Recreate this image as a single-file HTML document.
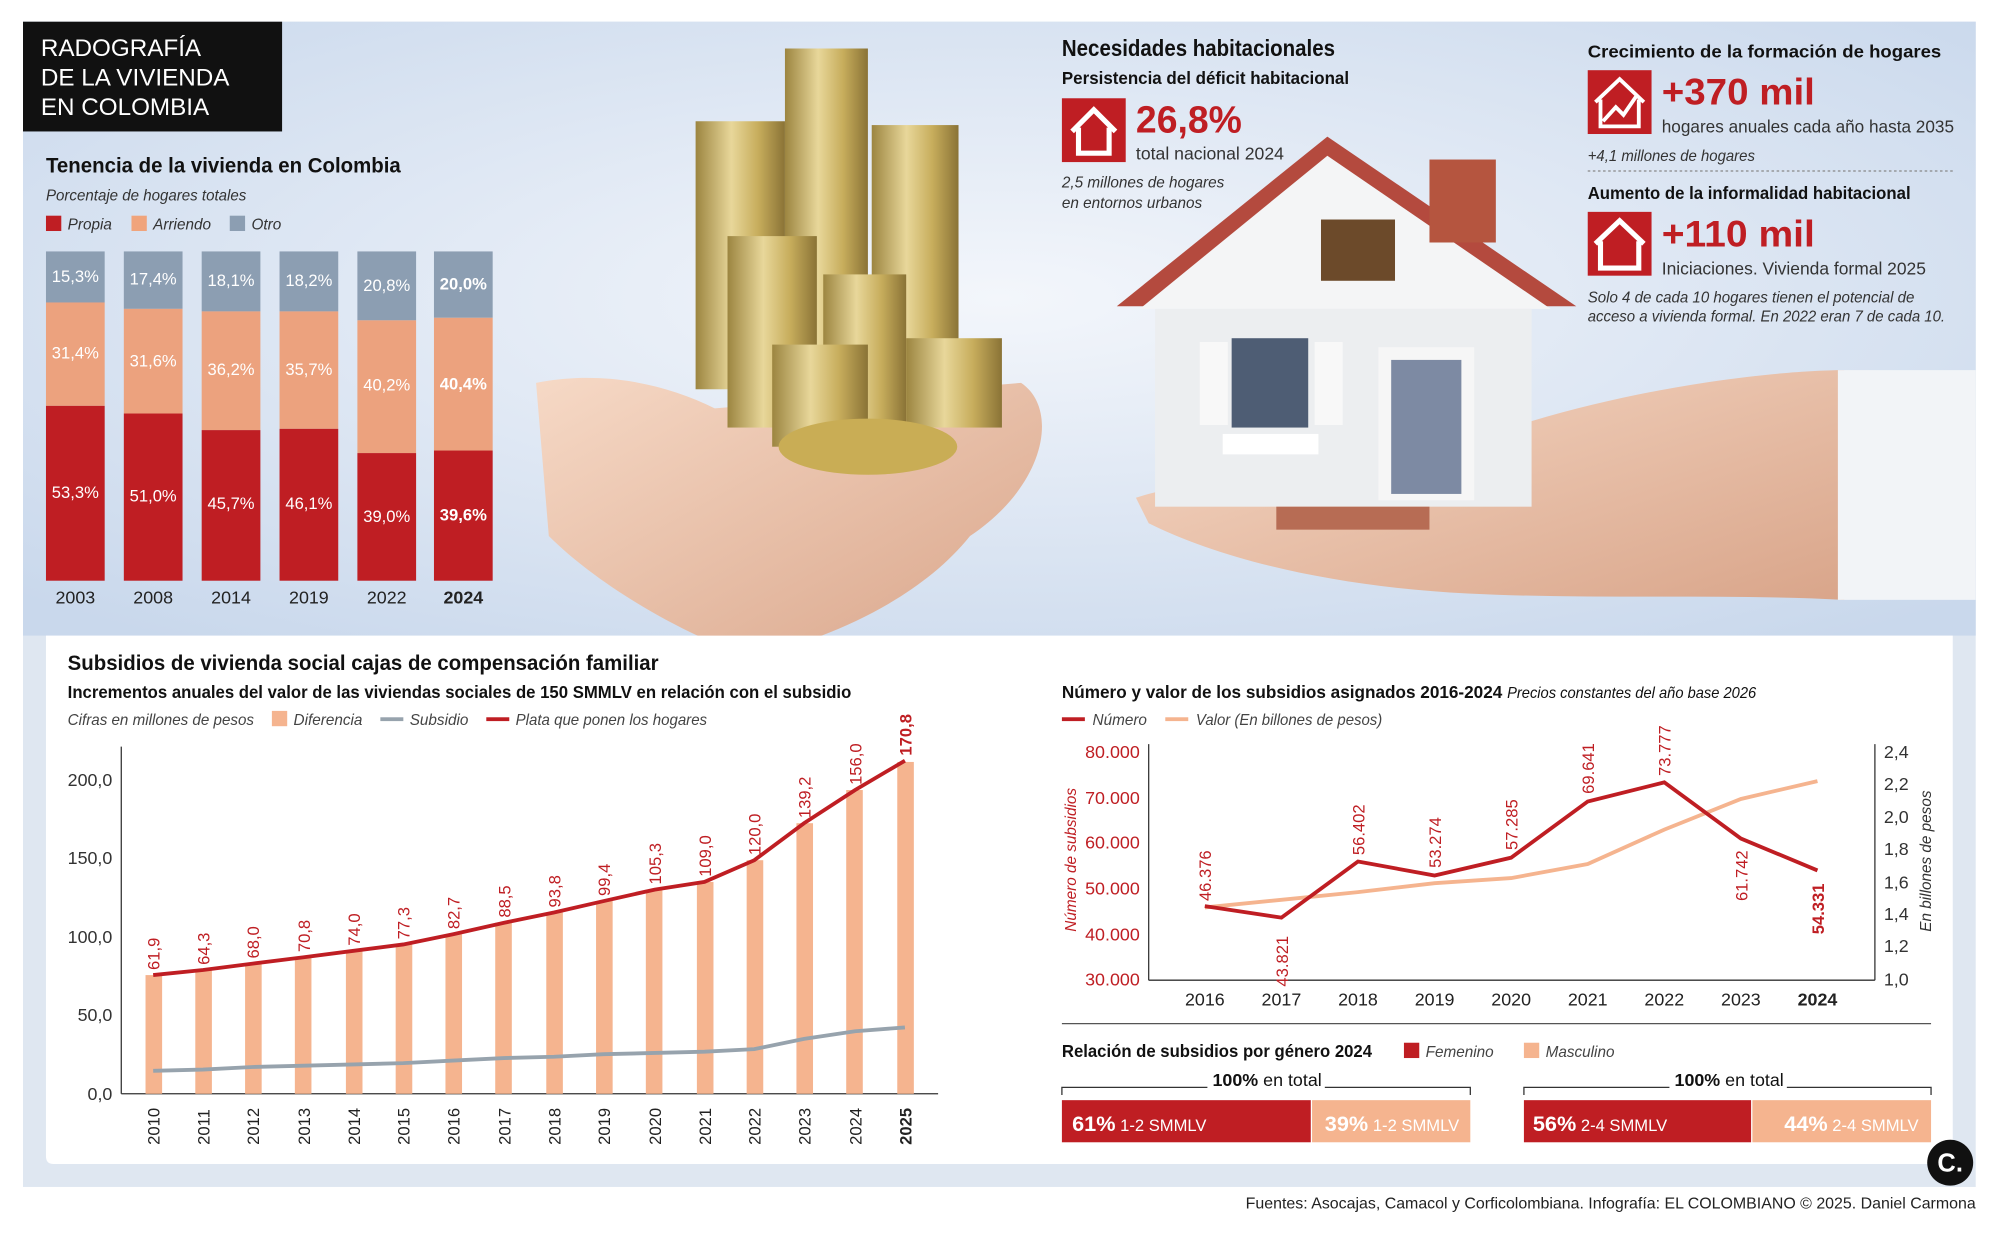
<!DOCTYPE html>
<html><head><meta charset="utf-8"><style>
html,body{margin:0;padding:0;background:#fff;}
svg{display:block}
text{font-family:"Liberation Sans",sans-serif;}
.b{font-weight:bold}
</style></head><body>
<svg width="2000" height="1238" viewBox="0 0 1567 970" xmlns="http://www.w3.org/2000/svg">
<defs>
<radialGradient id="bg" cx="0.5" cy="0.45" r="0.7"><stop offset="0" stop-color="#f3f6fb"/><stop offset="1" stop-color="#c9d8ec"/></radialGradient>
<linearGradient id="gold" x1="0" x2="1"><stop offset="0" stop-color="#9c8540"/><stop offset="0.4" stop-color="#e8d79a"/><stop offset="0.7" stop-color="#c7ad5c"/><stop offset="1" stop-color="#8a7336"/></linearGradient>
<linearGradient id="skin" x1="0" x2="1" y1="0" y2="1"><stop offset="0" stop-color="#f6d9c6"/><stop offset="1" stop-color="#d9a58a"/></linearGradient>
</defs>
<rect x="18" y="17" width="1530" height="913" fill="#dfe7f1"/>
<rect x="18" y="17" width="1530" height="481" fill="url(#bg)"/>
<path d="M420 300 C470 290 520 300 560 320 L800 300 C830 320 820 380 760 420 C720 470 650 500 590 515 C540 500 470 460 430 420 Z" fill="url(#skin)"/>
<path d="M890 390 C950 370 1050 380 1200 330 C1300 300 1400 290 1445 290 L1445 470 C1350 465 1250 470 1150 465 C1050 460 960 440 900 410 Z" fill="url(#skin)"/>
<rect x="1440" y="290" width="108" height="180" fill="#f2f4f7"/>
<rect x="545" y="95" width="70" height="210" fill="url(#gold)"/>
<rect x="615" y="38" width="65" height="290" fill="url(#gold)"/>
<rect x="683" y="98" width="68" height="230" fill="url(#gold)"/>
<rect x="570" y="185" width="70" height="150" fill="url(#gold)"/>
<rect x="645" y="215" width="65" height="130" fill="url(#gold)"/>
<rect x="605" y="270" width="75" height="80" fill="url(#gold)"/>
<rect x="710" y="265" width="75" height="70" fill="url(#gold)"/>
<ellipse cx="680" cy="350" rx="70" ry="22" fill="#c9ad55"/>
<polygon points="875,240 1040,107 1235,240" fill="#b44a3e"/>
<polygon points="893,242 1040,122 1215,242" fill="#f4f5f6"/>
<rect x="1120" y="125" width="52" height="65" fill="#b5553f"/>
<rect x="905" y="242" width="295" height="155" fill="#eceef0"/>
<rect x="1035" y="172" width="58" height="48" fill="#6c4a2a"/>
<rect x="965" y="265" width="60" height="70" fill="#4e5d74"/>
<rect x="940" y="268" width="22" height="65" fill="#f8f8f8"/><rect x="1030" y="268" width="22" height="65" fill="#f8f8f8"/>
<rect x="958" y="340" width="75" height="16" fill="#fff"/>
<rect x="1080" y="272" width="75" height="120" fill="#f6f6f6"/><rect x="1090" y="282" width="55" height="105" fill="#7d8aa3"/>
<rect x="1000" y="397" width="120" height="18" fill="#b76c54"/>
<rect x="18" y="17" width="203" height="86" fill="#111"/>
<text fill="#fff" font-size="19"><tspan x="32" y="44">RADOGRAFÍA</tspan><tspan x="32" y="67">DE LA VIVIENDA</tspan><tspan x="32" y="90">EN COLOMBIA</tspan></text>
<text x="36" y="135" font-size="17" class="b" fill="#111" textLength="278" lengthAdjust="spacingAndGlyphs">Tenencia de la vivienda en Colombia</text>
<text x="36" y="157" font-size="12" font-style="italic" fill="#333" textLength="157" lengthAdjust="spacingAndGlyphs">Porcentaje de hogares totales</text>
<rect x="36" y="169" width="12" height="12" fill="#bf1e23"/><text x="53" y="180" font-size="12" font-style="italic" fill="#333">Propia</text>
<rect x="103" y="169" width="12" height="12" fill="#f0a47c"/><text x="120" y="180" font-size="12" font-style="italic" fill="#333">Arriendo</text>
<rect x="180" y="169" width="12" height="12" fill="#8c9eb2"/><text x="197" y="180" font-size="12" font-style="italic" fill="#333">Otro</text>
<g font-size="13" fill="#fff" text-anchor="middle">
<rect x="36" y="197" width="46" height="40" fill="#8c9eb2"/><rect x="36" y="237" width="46" height="81" fill="#eca27e"/><rect x="36" y="318" width="46" height="137" fill="#bf1e23"/>
<text x="59" y="221">15,3%</text><text x="59" y="281">31,4%</text><text x="59" y="390">53,3%</text>
<rect x="97" y="197" width="46" height="45" fill="#8c9eb2"/><rect x="97" y="242" width="46" height="82" fill="#eca27e"/><rect x="97" y="324" width="46" height="131" fill="#bf1e23"/>
<text x="120" y="223">17,4%</text><text x="120" y="287">31,6%</text><text x="120" y="393">51,0%</text>
<rect x="158" y="197" width="46" height="47" fill="#8c9eb2"/><rect x="158" y="244" width="46" height="93" fill="#eca27e"/><rect x="158" y="337" width="46" height="118" fill="#bf1e23"/>
<text x="181" y="224">18,1%</text><text x="181" y="294">36,2%</text><text x="181" y="399">45,7%</text>
<rect x="219" y="197" width="46" height="47" fill="#8c9eb2"/><rect x="219" y="244" width="46" height="92" fill="#eca27e"/><rect x="219" y="336" width="46" height="119" fill="#bf1e23"/>
<text x="242" y="224">18,2%</text><text x="242" y="294">35,7%</text><text x="242" y="399">46,1%</text>
<rect x="280" y="197" width="46" height="54" fill="#8c9eb2"/><rect x="280" y="251" width="46" height="104" fill="#eca27e"/><rect x="280" y="355" width="46" height="100" fill="#bf1e23"/>
<text x="303" y="228">20,8%</text><text x="303" y="306">40,2%</text><text x="303" y="409">39,0%</text>
<rect x="340" y="197" width="46" height="52" fill="#8c9eb2"/><rect x="340" y="249" width="46" height="104" fill="#eca27e"/><rect x="340" y="353" width="46" height="102" fill="#bf1e23"/>
<g class="b"><text x="363" y="227">20,0%</text><text x="363" y="305">40,4%</text><text x="363" y="408">39,6%</text></g>
</g>
<g font-size="14" fill="#222" text-anchor="middle"><text x="59" y="473">2003</text><text x="120" y="473">2008</text><text x="181" y="473">2014</text><text x="242" y="473">2019</text><text x="303" y="473">2022</text><text x="363" y="473" class="b">2024</text></g>
<text x="832" y="44" font-size="18" class="b" fill="#111" textLength="214" lengthAdjust="spacingAndGlyphs">Necesidades habitacionales</text>
<text x="832" y="66" font-size="14" class="b" fill="#111" textLength="225" lengthAdjust="spacingAndGlyphs">Persistencia del déficit habitacional</text>
<rect x="832" y="77" width="50" height="50" fill="#bf1e23"/><path d="M840 103 L857 86 L874 103 M845 100 V120 H869 V100" stroke="#fff" stroke-width="4" fill="none"/>
<text x="890" y="104" font-size="30" class="b" fill="#bf1e23" textLength="83" lengthAdjust="spacingAndGlyphs">26,8%</text>
<text x="890" y="125" font-size="14" fill="#333" textLength="116" lengthAdjust="spacingAndGlyphs">total nacional 2024</text>
<text font-size="12" font-style="italic" fill="#333"><tspan x="832" y="147">2,5 millones de hogares</tspan><tspan x="832" y="163">en entornos urbanos</tspan></text>
<text x="1244" y="45" font-size="14" class="b" fill="#111" textLength="277" lengthAdjust="spacingAndGlyphs">Crecimiento de la formación de hogares</text>
<rect x="1244" y="55" width="50" height="50" fill="#bf1e23"/><path d="M1250 80 L1269 62 L1288 80 M1254 78 V99 H1284 V78 M1256 95 L1266 84 L1272 90 L1283 74" stroke="#fff" stroke-width="3" fill="none"/>
<text x="1302" y="82" font-size="29" class="b" fill="#bf1e23" textLength="120" lengthAdjust="spacingAndGlyphs">+370 mil</text>
<text x="1302" y="104" font-size="14" fill="#333" textLength="229" lengthAdjust="spacingAndGlyphs">hogares anuales cada año hasta 2035</text>
<text x="1244" y="126" font-size="12" font-style="italic" fill="#333" textLength="131" lengthAdjust="spacingAndGlyphs">+4,1 millones de hogares</text>
<line x1="1244" y1="134" x2="1530" y2="134" stroke="#888" stroke-dasharray="2,2"/>
<text x="1244" y="156" font-size="14" class="b" fill="#111" textLength="253" lengthAdjust="spacingAndGlyphs">Aumento de la informalidad habitacional</text>
<rect x="1244" y="166" width="50" height="50" fill="#bf1e23"/><path d="M1250 191 L1269 173 L1288 191 M1254 189 V210 H1284 V189" stroke="#fff" stroke-width="4" fill="none"/>
<text x="1302" y="193" font-size="29" class="b" fill="#bf1e23" textLength="120" lengthAdjust="spacingAndGlyphs">+110 mil</text>
<text x="1302" y="215" font-size="14" fill="#333" textLength="207" lengthAdjust="spacingAndGlyphs">Iniciaciones. Vivienda formal 2025</text>
<text font-size="12" font-style="italic" fill="#333"><tspan x="1244" y="237" textLength="256" lengthAdjust="spacingAndGlyphs">Solo 4 de cada 10 hogares tienen el potencial de</tspan><tspan x="1244" y="252" textLength="280" lengthAdjust="spacingAndGlyphs">acceso a vivienda formal. En 2022 eran 7 de cada 10.</tspan></text>
<path d="M36 498 H1530 V906 Q1530 912 1524 912 H42 Q36 912 36 906 Z" fill="#fff"/>
<text x="53" y="525" font-size="17" class="b" fill="#111" textLength="463" lengthAdjust="spacingAndGlyphs">Subsidios de vivienda social cajas de compensación familiar</text>
<text x="53" y="547" font-size="14" class="b" fill="#111" textLength="614" lengthAdjust="spacingAndGlyphs">Incrementos anuales del valor de las viviendas sociales de 150 SMMLV en relación con el subsidio</text>
<g font-size="12" font-style="italic" fill="#444">
<text x="53" y="568" textLength="146" lengthAdjust="spacingAndGlyphs">Cifras en millones de pesos</text>
<rect x="213" y="557" width="12" height="12" fill="#f5b48f"/><text x="230" y="568">Diferencia</text>
<rect x="298" y="562" width="18" height="3" fill="#97a3ad"/><text x="321" y="568">Subsidio</text>
<rect x="381" y="562" width="18" height="3" fill="#bf1e23"/><text x="404" y="568" textLength="150" lengthAdjust="spacingAndGlyphs">Plata que ponen los hogares</text>
</g>
<g font-size="14" fill="#333" text-anchor="end">
<text x="88" y="616">200,0</text><text x="88" y="677">150,0</text><text x="88" y="739">100,0</text><text x="88" y="800">50,0</text><text x="88" y="862">0,0</text>
</g>
<line x1="95" y1="585" x2="95" y2="857" stroke="#333"/><line x1="95" y1="857" x2="735" y2="857" stroke="#333"/>
<g fill="#f5b48f">
<rect x="114" y="764" width="13" height="93"/><rect x="153" y="760" width="13" height="97"/><rect x="192" y="755" width="13" height="102"/><rect x="231" y="750" width="13" height="107"/><rect x="271" y="745" width="13" height="112"/><rect x="310" y="740" width="13" height="117"/><rect x="349" y="732" width="13" height="125"/><rect x="388" y="723" width="13" height="134"/><rect x="428" y="715" width="13" height="142"/><rect x="467" y="706" width="13" height="151"/><rect x="506" y="697" width="13" height="160"/><rect x="546" y="691" width="13" height="166"/><rect x="585" y="674" width="13" height="183"/><rect x="624" y="645" width="13" height="212"/><rect x="663" y="619" width="13" height="238"/><rect x="703" y="597" width="13" height="260"/>
</g>
<polyline points="120,839 159,838 198,836 238,835 277,834 316,833 355,831 395,829 434,828 473,826 513,825 552,824 591,822 630,814 670,808 709,805" fill="none" stroke="#97a3ad" stroke-width="3"/>
<polyline points="120,764 159,760 198,755 238,750 277,745 316,740 355,732 395,723 434,715 473,706 513,697 552,691 591,674 630,645 670,619 709,596" fill="none" stroke="#bf1e23" stroke-width="3"/>
<g font-size="13" fill="#bf1e23">
<text transform="translate(125,760) rotate(-90)">61,9</text><text transform="translate(164,756) rotate(-90)">64,3</text><text transform="translate(203,751) rotate(-90)">68,0</text><text transform="translate(243,746) rotate(-90)">70,8</text><text transform="translate(282,741) rotate(-90)">74,0</text><text transform="translate(321,736) rotate(-90)">77,3</text><text transform="translate(360,728) rotate(-90)">82,7</text><text transform="translate(400,719) rotate(-90)">88,5</text><text transform="translate(439,711) rotate(-90)">93,8</text><text transform="translate(478,702) rotate(-90)">99,4</text><text transform="translate(518,693) rotate(-90)">105,3</text><text transform="translate(557,687) rotate(-90)">109,0</text><text transform="translate(596,670) rotate(-90)">120,0</text><text transform="translate(635,641) rotate(-90)">139,2</text><text transform="translate(675,615) rotate(-90)">156,0</text><text transform="translate(714,592) rotate(-90)" class="b">170,8</text>
</g>
<g font-size="13" fill="#222">
<text transform="translate(125,897) rotate(-90)">2010</text><text transform="translate(164,897) rotate(-90)">2011</text><text transform="translate(203,897) rotate(-90)">2012</text><text transform="translate(243,897) rotate(-90)">2013</text><text transform="translate(282,897) rotate(-90)">2014</text><text transform="translate(321,897) rotate(-90)">2015</text><text transform="translate(360,897) rotate(-90)">2016</text><text transform="translate(400,897) rotate(-90)">2017</text><text transform="translate(439,897) rotate(-90)">2018</text><text transform="translate(478,897) rotate(-90)">2019</text><text transform="translate(518,897) rotate(-90)">2020</text><text transform="translate(557,897) rotate(-90)">2021</text><text transform="translate(596,897) rotate(-90)">2022</text><text transform="translate(635,897) rotate(-90)">2023</text><text transform="translate(675,897) rotate(-90)">2024</text><text transform="translate(714,897) rotate(-90)" class="b">2025</text>
</g>
<text x="832" y="547" font-size="14" class="b" fill="#111" textLength="544" lengthAdjust="spacingAndGlyphs">Número y valor de los subsidios asignados 2016-2024 <tspan font-weight="normal" font-style="italic" font-size="12">Precios constantes del año base 2026</tspan></text>
<rect x="832" y="562" width="18" height="3" fill="#bf1e23"/><text x="856" y="568" font-size="12" font-style="italic" fill="#444">Número</text>
<rect x="913" y="562" width="18" height="3" fill="#f5b48f"/><text x="937" y="568" font-size="12" font-style="italic" fill="#444" textLength="146" lengthAdjust="spacingAndGlyphs">Valor (En billones de pesos)</text>
<g font-size="14" fill="#bf1e23" text-anchor="end"><text x="893" y="594">80.000</text><text x="893" y="630">70.000</text><text x="893" y="665">60.000</text><text x="893" y="701">50.000</text><text x="893" y="737">40.000</text><text x="893" y="772">30.000</text></g>
<g font-size="14" fill="#333"><text x="1476" y="594">2,4</text><text x="1476" y="619">2,2</text><text x="1476" y="645">2,0</text><text x="1476" y="670">1,8</text><text x="1476" y="696">1,6</text><text x="1476" y="721">1,4</text><text x="1476" y="746">1,2</text><text x="1476" y="772">1,0</text></g>
<text transform="translate(843,730) rotate(-90)" font-size="12" font-style="italic" fill="#bf1e23">Número de subsidios</text>
<text transform="translate(1513,730) rotate(-90)" font-size="12" font-style="italic" fill="#333">En billones de pesos</text>
<line x1="900" y1="583" x2="900" y2="768" stroke="#333"/><line x1="1469" y1="583" x2="1469" y2="768" stroke="#333"/><line x1="900" y1="768" x2="1469" y2="768" stroke="#333"/>
<polyline points="944,711 1004,705 1064,699 1124,692 1184,688 1244,677 1304,650 1364,626 1424,612" fill="none" stroke="#f5b48f" stroke-width="3"/>
<polyline points="944,710 1004,719 1064,675 1124,686 1184,672 1244,628 1304,613 1364,657 1424,682" fill="none" stroke="#bf1e23" stroke-width="3"/>
<g font-size="13" fill="#bf1e23">
<text transform="translate(949,706) rotate(-90)">46.376</text><text transform="translate(1009,773) rotate(-90)">43.821</text><text transform="translate(1069,670) rotate(-90)">56.402</text><text transform="translate(1129,680) rotate(-90)">53.274</text><text transform="translate(1189,666) rotate(-90)">57.285</text><text transform="translate(1249,622) rotate(-90)">69.641</text><text transform="translate(1309,608) rotate(-90)">73.777</text><text transform="translate(1369,706) rotate(-90)">61.742</text><text transform="translate(1429,732) rotate(-90)" class="b">54.331</text>
</g>
<g font-size="14" fill="#222" text-anchor="middle"><text x="944" y="788">2016</text><text x="1004" y="788">2017</text><text x="1064" y="788">2018</text><text x="1124" y="788">2019</text><text x="1184" y="788">2020</text><text x="1244" y="788">2021</text><text x="1304" y="788">2022</text><text x="1364" y="788">2023</text><text x="1424" y="788" class="b">2024</text></g>
<line x1="832" y1="802" x2="1513" y2="802" stroke="#555"/>
<text x="832" y="828" font-size="14" class="b" fill="#111" textLength="243" lengthAdjust="spacingAndGlyphs">Relación de subsidios por género 2024</text>
<rect x="1100" y="817" width="12" height="12" fill="#bf1e23"/><text x="1117" y="828" font-size="12" font-style="italic" fill="#444">Femenino</text>
<rect x="1194" y="817" width="12" height="12" fill="#f5b48f"/><text x="1211" y="828" font-size="12" font-style="italic" fill="#444">Masculino</text>
<path d="M832 858 V852 H1152 V858 M1194 858 V852 H1513 V858" fill="none" stroke="#333"/>
<rect x="946" y="838" width="92" height="18" fill="#fff"/><text x="950" y="851" font-size="14" fill="#111"><tspan class="b">100%</tspan> en total</text>
<rect x="1308" y="838" width="92" height="18" fill="#fff"/><text x="1312" y="851" font-size="14" fill="#111"><tspan class="b">100%</tspan> en total</text>
<rect x="832" y="862" width="195" height="33" fill="#bf1e23"/><rect x="1028" y="862" width="124" height="33" fill="#f5b48f"/>
<rect x="1194" y="862" width="178" height="33" fill="#bf1e23"/><rect x="1373" y="862" width="140" height="33" fill="#f5b48f"/>
<g fill="#fff" font-size="13"><text x="840" y="886"><tspan class="b" font-size="17">61%</tspan> 1-2 SMMLV</text><text x="1038" y="886"><tspan class="b" font-size="17">39%</tspan> 1-2 SMMLV</text><text x="1201" y="886"><tspan class="b" font-size="17">56%</tspan> 2-4 SMMLV</text><text x="1398" y="886"><tspan class="b" font-size="17">44%</tspan> 2-4 SMMLV</text></g>
<circle cx="1528" cy="911" r="18" fill="#111"/><text x="1528" y="918" font-size="20" class="b" fill="#fff" text-anchor="middle">C.</text>
<text x="1548" y="947" font-size="12" fill="#222" text-anchor="end" textLength="572" lengthAdjust="spacingAndGlyphs">Fuentes: Asocajas, Camacol y Corficolombiana. Infografía: EL COLOMBIANO © 2025. Daniel Carmona</text>
</svg>
</body></html>
